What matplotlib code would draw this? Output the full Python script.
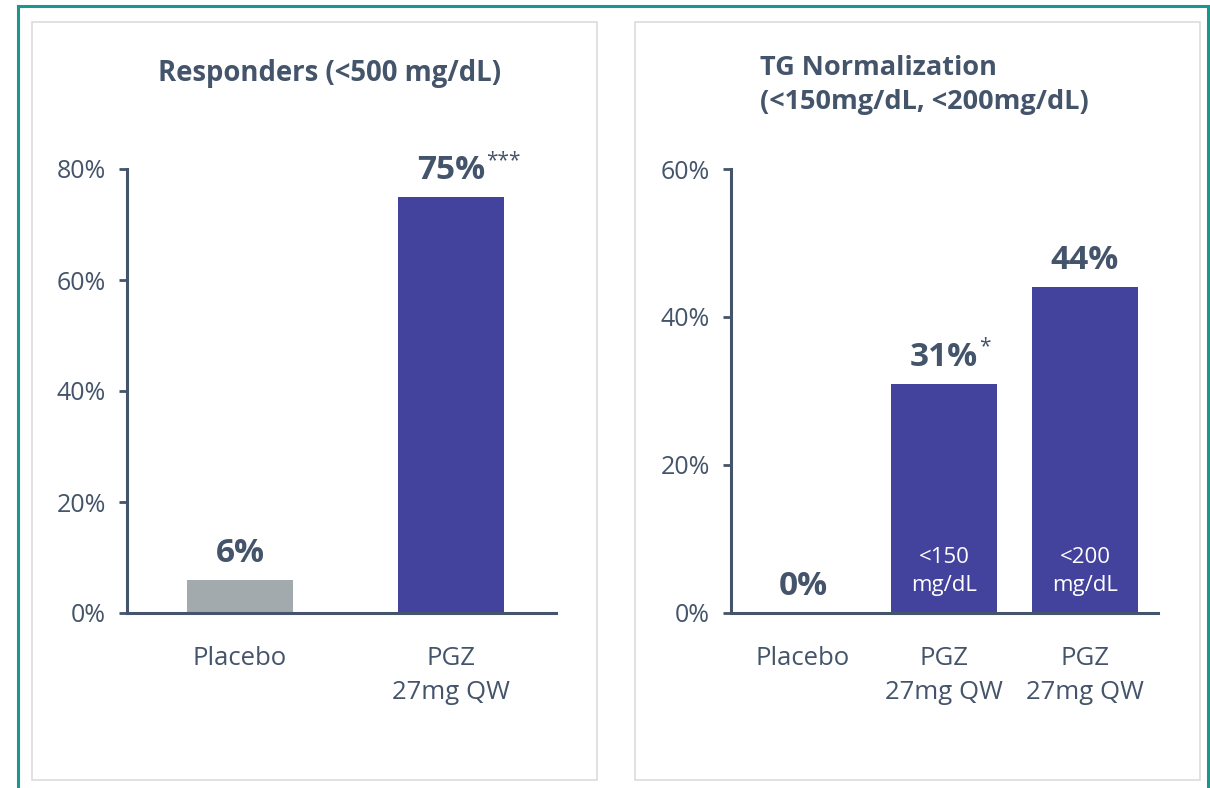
import matplotlib
matplotlib.use("Agg")
import matplotlib.pyplot as plt
from matplotlib.patches import Rectangle
from matplotlib.transforms import offset_copy

plt.rcParams['font.family'] = ['Open Sans', 'DejaVu Sans']

# ---- data ----
left_title = "Responders (<500 mg/dL)"
left_categories = ["Placebo", "PGZ\n27mg QW"]
left_values = [6, 75]
left_labels = ["6%", "75%"]
left_marks = ["", "***"]
left_ticks = [0, 20, 40, 60, 80]

right_title = "TG Normalization\n(<150mg/dL, <200mg/dL)"
right_categories = ["Placebo", "PGZ\n27mg QW", "PGZ\n27mg QW"]
right_values = [0, 31, 44]
right_labels = ["0%", "31%", "44%"]
right_marks = ["", "*", ""]
right_inside = ["", "<150\nmg/dL", "<200\nmg/dL"]
right_ticks = [0, 20, 40, 60]

TEXT = "#44546a"
PURPLE = "#43439e"
GRAY = "#a3aaae"
TEAL = "#1a968f"

W, H = 1210, 788
fig = plt.figure(figsize=(W / 100, H / 100), dpi=100)
fig.patch.set_facecolor("white")

def fx(px):
    return px / W

def fy(py):
    return 1 - py / H

# teal outer frame and panel boxes
fig.patches.append(Rectangle((fx(18), fy(800)), fx(1208 - 18), (800 - 6) / H,
                             transform=fig.transFigure, fill=False,
                             edgecolor=TEAL, linewidth=2.2))
for x0, x1 in [(32, 597), (635, 1200)]:
    fig.patches.append(Rectangle((fx(x0), fy(780)), fx(x1 - x0), (780 - 22) / H,
                                 transform=fig.transFigure, fill=False,
                                 edgecolor="#dcdcdc", linewidth=1.2))

marks_to_fix = []

def style_axis(ax, ticks, ymax):
    for s in ["top", "right"]:
        ax.spines[s].set_visible(False)
    for s in ["left", "bottom"]:
        ax.spines[s].set_color(TEXT)
        ax.spines[s].set_linewidth(2.2)
    ax.set_ylim(0, ymax)
    ax.set_yticks(ticks)
    ax.set_yticklabels([f"{t}%" for t in ticks])
    ax.tick_params(axis="y", length=6, width=2, color=TEXT, labelcolor=TEXT,
                   labelsize=18, pad=9)
    ax.tick_params(axis="x", length=0, labelcolor=TEXT, labelsize=18.5, pad=24)
    ax.set_facecolor("none")

def value_label(ax, x, y, txt, mark):
    t = ax.annotate(txt, xy=(x, y), xytext=(0, 13), textcoords="offset points",
                    ha="center", va="baseline", fontsize=24, fontweight="bold",
                    color=TEXT)
    if mark:
        m = ax.annotate(mark, xy=(1.02, 1.12), xycoords=t, ha="left", va="top",
                        fontsize=15, color=TEXT)
        marks_to_fix.append((t, m))

# ---- left panel ----
axL = fig.add_axes([fx(127), fy(613), fx(556 - 127), (613 - 169) / H])
xl = list(range(len(left_values)))
axL.bar(xl, left_values, width=0.5, color=[GRAY, PURPLE])
axL.set_xlim(-0.5355, 1.4976)
axL.set_xticks(xl)
axL.set_xticklabels(left_categories, linespacing=1.45)
style_axis(axL, left_ticks, 80)
for x, v, lab, mk in zip(xl, left_values, left_labels, left_marks):
    value_label(axL, x, v, lab, mk)
fig.text(fx(330), fy(73), left_title, ha="center", va="center",
         fontsize=19.8, fontweight="bold", color=TEXT)

# ---- right panel ----
axR = fig.add_axes([fx(731), fy(613), fx(1158 - 731), (613 - 169) / H])
xr = list(range(len(right_values)))
axR.bar(xr, right_values, width=0.75, color=[GRAY, PURPLE, PURPLE])
axR.set_xlim(-0.51, 2.518)
axR.set_xticks(xr)
axR.set_xticklabels(right_categories, linespacing=1.45)
style_axis(axR, right_ticks, 60)
for x, v, lab, mk in zip(xr, right_values, right_labels, right_marks):
    value_label(axR, x, v, lab, mk)
for x, inside in zip(xr, right_inside):
    if inside:
        axR.annotate(inside, xy=(x, 0), xytext=(0, 30), textcoords="offset points",
                     ha="center", va="center", fontsize=16, color="white",
                     linespacing=1.4)
fig.text(fx(760), fy(85), right_title, ha="left", va="center",
         fontsize=19.5, fontweight="bold", color=TEXT, linespacing=1.4)

# center number+superscript combos
fig.canvas.draw()
for t, m in marks_to_fix:
    w = m.get_window_extent().width
    t.set_transform(offset_copy(t.get_transform(), fig, x=-w / 2, units="dots"))

fig.savefig("out.png", dpi=100, facecolor="white")
